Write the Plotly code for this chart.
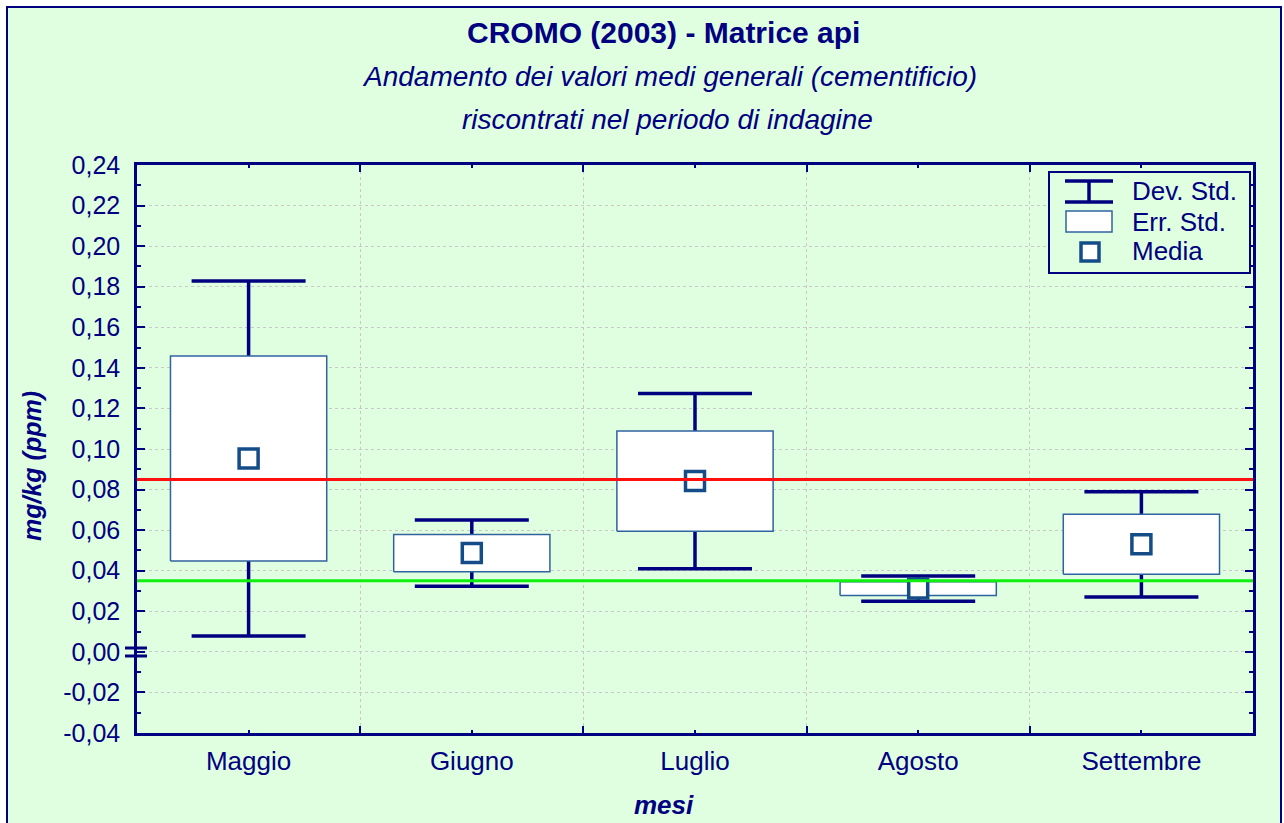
import plotly.graph_objects as go

mesi = ["Maggio", "Giugno", "Luglio", "Agosto", "Settembre"]
media = [0.0953, 0.0487, 0.0842, 0.0312, 0.0530]
err_std = [0.0505, 0.0092, 0.0247, 0.0034, 0.0148]
dev_std = [0.0875, 0.0163, 0.0432, 0.0062, 0.0259]
limite_rosso = 0.085
limite_verde = 0.035
y_ticks = [-0.04, -0.02, 0.0, 0.02, 0.04, 0.06, 0.08, 0.10, 0.12, 0.14, 0.16, 0.18, 0.20, 0.22, 0.24]
y_ticktext = [f"{v:.2f}".replace(".", ",") for v in y_ticks]

NAVY = "#000080"
BOXC = "#2F63A0"
MARK = "#144C88"
GREEN_BG = "#E0FFE0"

# plot area in pixels (used only for decorations in paper coords)
L, R, T, B = 137, 1253, 165, 733
def px(x):
    return (x - L) / (R - L)
def py(y):
    return (B - y) / (B - T)

xs = list(range(len(mesi)))

fig = go.Figure()

# whiskers (dev. std.)
fig.add_trace(go.Scatter(
    x=xs, y=media, mode="markers", marker=dict(size=1, opacity=0),
    error_y=dict(type="data", array=dev_std, color=NAVY, thickness=3.5, width=57),
    showlegend=False, hoverinfo="skip"))

# boxes (err. std.)
bx, by = [], []
for i, m, e in zip(xs, media, err_std):
    bx += [i - 0.35, i + 0.35, i + 0.35, i - 0.35, i - 0.35, None]
    by += [m - e, m - e, m + e, m + e, m - e, None]
fig.add_trace(go.Scatter(
    x=bx, y=by, mode="lines", fill="toself", fillcolor="white",
    line=dict(color=BOXC, width=1.5), showlegend=False, hoverinfo="skip"))

# means
fig.add_trace(go.Scatter(
    x=xs, y=media, mode="markers",
    marker=dict(symbol="square", size=19, color="white", line=dict(color=MARK, width=3.5)),
    showlegend=False))

# reference lines
fig.add_trace(go.Scatter(x=[-0.5, 4.5], y=[limite_rosso] * 2, mode="lines",
                         line=dict(color="#FF1010", width=3), showlegend=False))
fig.add_trace(go.Scatter(x=[-0.5, 4.5], y=[limite_verde] * 2, mode="lines",
                         line=dict(color="#10F010", width=3), showlegend=False))

shapes = []
# outer frame with green background
shapes.append(dict(type="rect", xref="paper", yref="paper", layer="below",
                   x0=px(7), x1=px(1281), y0=py(840), y1=py(7),
                   fillcolor=GREEN_BG, line=dict(color=NAVY, width=2)))
# axis break mark at 0
for yy in (648, 656):
    shapes.append(dict(type="line", xref="paper", yref="paper",
                       x0=px(125), x1=px(147), y0=py(yy), y1=py(yy),
                       line=dict(color=NAVY, width=3)))
# legend box
shapes.append(dict(type="rect", xref="paper", yref="paper",
                   x0=px(1049), x1=px(1250), y0=py(273), y1=py(172),
                   fillcolor=GREEN_BG, line=dict(color=NAVY, width=2)))
for yy in (181, 202):
    shapes.append(dict(type="line", xref="paper", yref="paper",
                       x0=px(1065), x1=px(1113), y0=py(yy), y1=py(yy),
                       line=dict(color=NAVY, width=3.5)))
shapes.append(dict(type="line", xref="paper", yref="paper",
                   x0=px(1089), x1=px(1089), y0=py(181), y1=py(202),
                   line=dict(color=NAVY, width=3.5)))
shapes.append(dict(type="rect", xref="paper", yref="paper",
                   x0=px(1066), x1=px(1112), y0=py(232), y1=py(211),
                   fillcolor="white", line=dict(color=BOXC, width=1.5)))
shapes.append(dict(type="rect", xref="paper", yref="paper",
                   x0=px(1081), x1=px(1099), y0=py(261), y1=py(243),
                   fillcolor="white", line=dict(color=MARK, width=3.5)))

FONT = "Liberation Sans, Arial, sans-serif"
annotations = [
    dict(text="<b>CROMO (2003) - Matrice api</b>", x=px(663), y=py(32), font=dict(size=30)),
    dict(text="<i>Andamento dei valori medi generali (cementificio)</i>", x=px(669), y=py(77), font=dict(size=28)),
    dict(text="<i>riscontrati nel periodo di indagine</i>", x=px(667), y=py(119), font=dict(size=28)),
    dict(text="<b><i>mg/kg (ppm)</i></b>", x=px(32), y=py(466), textangle=-90, font=dict(size=25)),
    dict(text="<b><i>mesi</i></b>", x=px(664), y=py(805), font=dict(size=26)),
]
for lbl, yy in (("Dev. Std.", 191), ("Err. Std.", 222), ("Media", 251)):
    annotations.append(dict(text=lbl, x=px(1130), y=py(yy), xanchor="left", font=dict(size=26)))
for a in annotations:
    a.update(xref="paper", yref="paper", showarrow=False)
    a.setdefault("xanchor", "center")
    a["yanchor"] = "middle"
    a["font"].update(color=NAVY, family=FONT)

fig.update_layout(
    width=1284, height=823,
    margin=dict(l=L, r=1284 - R, t=T, b=823 - B),
    paper_bgcolor="white", plot_bgcolor="white",
    font=dict(family=FONT, color=NAVY, size=25),
    shapes=shapes, annotations=annotations,
    showlegend=False,
)
fig.update_xaxes(
    range=[-0.5, 4.5], tickvals=xs, ticktext=mesi,
    ticks="inside", ticklen=3, tickwidth=2, tickcolor=NAVY,
    showgrid=False, zeroline=False,
    showline=True, linecolor=NAVY, linewidth=2.5, mirror="ticks",
    ticklabelstandoff=3,
    tickfont=dict(size=26, color=NAVY),
    minor=dict(tick0=0.5, dtick=1, ticks="inside", ticklen=7, tickwidth=2, tickcolor=NAVY,
               showgrid=True, gridcolor="#C8C8C8", griddash="dot", gridwidth=1),
)
fig.update_yaxes(
    range=[-0.04, 0.24], tickvals=y_ticks, ticktext=y_ticktext,
    ticks="inside", ticklen=8, tickwidth=2, tickcolor=NAVY,
    showgrid=True, gridcolor="#C8C8C8", griddash="dot", gridwidth=1,
    zeroline=False,
    showline=True, linecolor=NAVY, linewidth=2.5, mirror="ticks",
    ticklabelstandoff=9,
    tickfont=dict(size=25, color=NAVY),
    minor=dict(dtick=0.01, tick0=0, ticks="inside", ticklen=4, tickwidth=2, tickcolor=NAVY, showgrid=False),
)

fig.write_html("out.html", config={"displayModeBar": False},
               post_script="document.body.style.margin='0';")
